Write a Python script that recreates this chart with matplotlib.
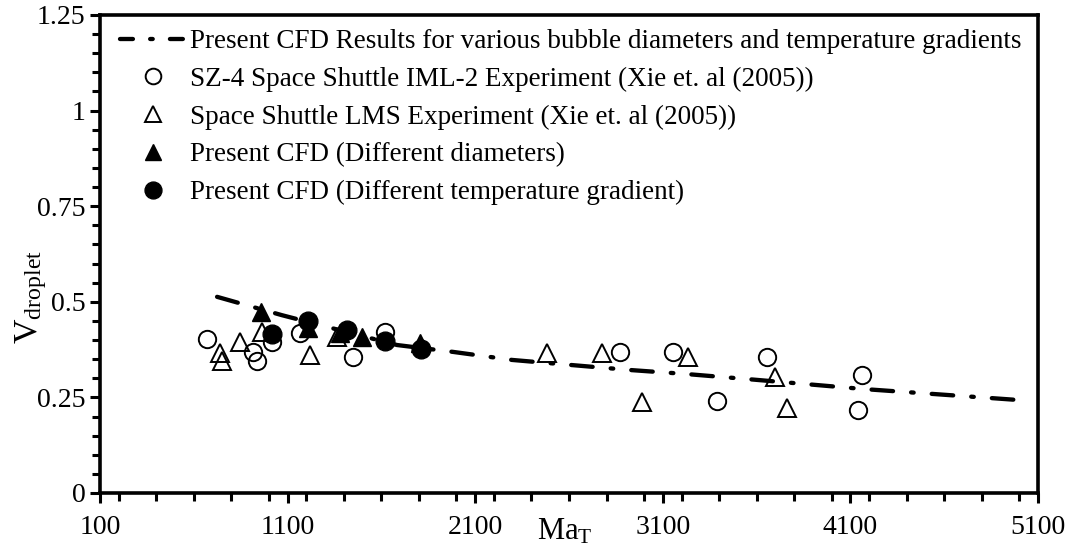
import numpy as np
import matplotlib
matplotlib.use("Agg")
import matplotlib.pyplot as plt
from matplotlib.ticker import MultipleLocator
from matplotlib.lines import Line2D

plt.rcParams['font.family'] = ['Liberation Serif', 'DejaVu Serif']
plt.rcParams['mathtext.fontset'] = 'custom'
plt.rcParams['mathtext.rm'] = 'Liberation Serif'
plt.rcParams['mathtext.it'] = 'Liberation Serif:italic'

# Present CFD results curve
cfd_ma = [724, 1070, 1683, 1982, 2296, 2605, 2915, 3229, 3549, 3858, 4167, 5000]
cfd_v = [0.513, 0.465, 0.387, 0.369, 0.348, 0.335, 0.322, 0.311, 0.298, 0.285, 0.272, 0.243]

# SZ-4 Space Shuttle IML-2 experiment
sz4_ma = [670, 916, 937, 1017, 1166, 1449, 1619, 2872, 3154, 3389, 3655, 4162, 4140]
sz4_v = [0.403, 0.369, 0.345, 0.395, 0.418, 0.356, 0.421, 0.369, 0.369, 0.241, 0.356, 0.309, 0.217]

# Space Shuttle LMS experiment
lms_ma = [740, 750, 846, 964, 1219, 1363, 2483, 2776, 2989, 3234, 3698, 3762]
lms_v = [0.366, 0.345, 0.395, 0.421, 0.361, 0.408, 0.366, 0.366, 0.238, 0.356, 0.303, 0.222]

# Present CFD, different diameters
diam_ma = [958, 1209, 1379, 1497, 1806]
diam_v = [0.473, 0.431, 0.418, 0.408, 0.392]

# Present CFD, different temperature gradient
grad_ma = [1017, 1209, 1417, 1619, 1811]
grad_v = [0.416, 0.450, 0.426, 0.397, 0.377]

fig = plt.figure(figsize=(10.76, 5.51), dpi=100)
ax = fig.add_axes([100/1076, 1-493/551, 938/1076, 478/551])

h_sz4, = ax.plot(sz4_ma, sz4_v, 'o', ms=12.5, mfc='none', mec='black', mew=1.4, ls='none', zorder=2)
h_lms, = ax.plot(lms_ma, lms_v, '^', ms=13.5, mfc='none', mec='black', mew=1.4, ls='none', zorder=2)
line, = ax.plot(cfd_ma, cfd_v, color='black', lw=3.1, zorder=3)
line.set_dashes((5, 4.2, 0.6, 4.2))
line.set_dash_capstyle('round')
h_diam, = ax.plot(diam_ma, diam_v, '^', ms=13.5, color='black', ls='none', zorder=4)
h_grad, = ax.plot(grad_ma, grad_v, 'o', ms=13.5, color='black', ls='none', zorder=5)

# legend proxy for the dash-dot curve
h_line = Line2D([], [], color='black', lw=3.1, dashes=(3, 4, 0.6, 4),
                dash_capstyle='round')

ax.set_xlim(100, 5100)
ax.set_ylim(0, 1.25)
ax.set_xticks([100, 1100, 2100, 3100, 4100, 5100])
ax.set_yticks([0, 0.25, 0.5, 0.75, 1.0, 1.25])
ax.set_yticklabels(['0', '0.25', '0.5', '0.75', '1', '1.25'])
ax.xaxis.set_minor_locator(MultipleLocator(200))
ax.yaxis.set_minor_locator(MultipleLocator(0.05))
ax.tick_params(which='both', direction='out', width=2.2, colors='black', labelsize=20)
ax.tick_params(which='major', length=7)
ax.tick_params(which='minor', length=6)
ax.tick_params(axis='x', pad=9)
for s in ax.spines.values():
    s.set_linewidth(2.6)

# axis labels
ax.text((565-100)/938, -(540-493)/478, r'$\mathrm{Ma}_\mathrm{T}$', fontsize=22,
        ha='center', va='baseline', transform=ax.transAxes)
ax.text(-(100-37)/938, (493-297)/478, r'$\mathrm{V}_\mathrm{droplet}$', fontsize=24.5,
        rotation=90, rotation_mode='anchor', ha='center', va='baseline',
        transform=ax.transAxes)

handles = [h_line, h_sz4, h_lms, h_diam, h_grad]
labels = ['Present CFD Results for various bubble diameters and temperature gradients',
          'SZ-4 Space Shuttle IML-2 Experiment (Xie et. al (2005))',
          'Space Shuttle LMS Experiment (Xie et. al (2005))',
          'Present CFD (Different diameters)',
          'Present CFD (Different temperature gradient)']
ax.legend(handles, labels, loc='upper left',
          bbox_to_anchor=(120/1076, 1-29/551), bbox_transform=fig.transFigure,
          frameon=False, fontsize=19.5, handlelength=2.47, handletextpad=0.1,
          labelspacing=0.47, borderpad=0, borderaxespad=0, markerscale=0.9)

fig.savefig('out.png', dpi=100)
